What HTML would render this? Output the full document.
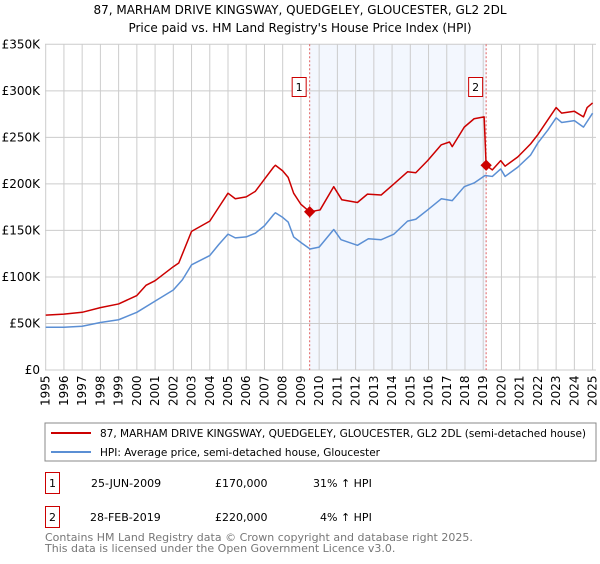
<!DOCTYPE html>
<html><head><meta charset="utf-8"><style>
body{margin:0;background:#fff;font-family:"DejaVu Sans","Liberation Sans",sans-serif;}
svg text{font-family:"DejaVu Sans","Liberation Sans",sans-serif;}
</style></head><body>
<svg id="chart" width="600" height="560">
<text x="300" y="14" text-anchor="middle" font-size="12">87, MARHAM DRIVE KINGSWAY, QUEDGELEY, GLOUCESTER, GL2 2DL</text>
<text x="300" y="32" text-anchor="middle" font-size="12">Price paid vs. HM Land Registry's House Price Index (HPI)</text>
<g id="plot"></g>
<rect x="45" y="423" width="551" height="38" fill="#fff" stroke="#888"/>
<line x1="51" y1="433" x2="91" y2="433" stroke="#cc0000" stroke-width="2"/>
<text x="100" y="437" font-size="10.5" textLength="486" lengthAdjust="spacingAndGlyphs">87, MARHAM DRIVE KINGSWAY, QUEDGELEY, GLOUCESTER, GL2 2DL (semi-detached house)</text>
<line x1="51" y1="452" x2="91" y2="452" stroke="#5b8fd4" stroke-width="2"/>
<text x="100" y="456" font-size="10.5" textLength="280" lengthAdjust="spacingAndGlyphs">HPI: Average price, semi-detached house, Gloucester</text>
<g font-size="11">
<rect x="45.5" y="472.5" width="14" height="21" fill="#fff" stroke="#cc0000"/>
<text x="52.5" y="487" text-anchor="middle">1</text>
<text x="91" y="487">25-JUN-2009</text><text x="215" y="487">£170,000</text><text x="313" y="487">31% ↑ HPI</text>
<rect x="45.5" y="506.5" width="14" height="21" fill="#fff" stroke="#cc0000"/>
<text x="52.5" y="521" text-anchor="middle">2</text>
<text x="90" y="521">28-FEB-2019</text><text x="215" y="521">£220,000</text><text x="320" y="521">4% ↑ HPI</text>
</g>
<text x="45" y="561" font-size="11" fill="#777"><tspan x="45" y="541">Contains HM Land Registry data © Crown copyright and database right 2025.</tspan><tspan x="45" y="552">This data is licensed under the Open Government Licence v3.0.</tspan></text>
</svg>
<script>
const yTicks=[0,50,100,150,200,250,300,350];
const yTickLabels=["£0","£50K","£100K","£150K","£200K","£250K","£300K","£350K"];
const years=[1995,1996,1997,1998,1999,2000,2001,2002,2003,2004,2005,2006,2007,2008,2009,2010,2011,2012,2013,2014,2015,2016,2017,2018,2019,2020,2021,2022,2023,2024,2025];
const priceT=[1995,1996,1997,1998,1999,2000,2000.5,2001,2002,2002.3,2003,2004,2004.5,2005,2005.4,2006,2006.5,2007,2007.5,2007.6,2008,2008.3,2008.6,2009,2009.48,2010.05,2010.8,2011.24,2012.1,2012.65,2013.4,2014.1,2014.85,2015.3,2015.95,2016.7,2017.15,2017.3,2017.96,2018.5,2019.05,2019.16,2019.5,2019.96,2020.2,2020.9,2021.6,2022.0,2022.55,2023.0,2023.3,2024.0,2024.5,2024.7,2025.0];
const priceV=[59,60,62,67,71,80,91,96,111,115,149,160,175,190,184,186,192,205,218,220,214,207,190,178,170,172,197,183,180,189,188,200,213,212,225,242,245,240,261,270,272,220,215,225,219,229,243,253,269,282,276,278,272,282,287];
const hpiT=[1995,1996,1997,1998,1999,2000,2001,2002,2002.5,2003,2004,2004.5,2005,2005.4,2006,2006.5,2007,2007.5,2007.6,2008,2008.3,2008.6,2009,2009.5,2010,2010.8,2011.2,2012.1,2012.7,2013.4,2014.1,2014.85,2015.3,2015.95,2016.7,2017.3,2017.96,2018.5,2019.1,2019.5,2019.96,2020.2,2020.9,2021.6,2022.0,2022.55,2023.0,2023.3,2024.0,2024.5,2025.0];
const hpiV=[46,46,47,51,54,62,74,86,97,113,123,135,146,142,143,147,155,167,169,164,159,143,137,130,132,151,140,134,141,140,146,160,162,172,184,182,197,201,209,208,216,208,218,231,244,258,271,266,268,261,276];
const saleT=[2009.48,2019.16];
const saleV=[170,220];
const NS="http://www.w3.org/2000/svg";
const X0=45.7,XW=18.23,Y0=370,YS=325.7/350;
const xs=t=>X0+(t-1995)*XW, ys=v=>Y0-v*YS;
const g=document.getElementById('plot');
function mk(tag,at){const e=document.createElementNS(NS,tag);for(const k in at)e.setAttribute(k,at[k]);g.appendChild(e);return e;}
let sh=mk('rect',{x:xs(saleT[0]),y:ys(350),width:xs(saleT[1])-xs(saleT[0]),height:ys(0)-ys(350),fill:'#eef3fd',opacity:0.7});


yTicks.forEach((v,i)=>{
 let l=mk('line',{x1:45,x2:596,y1:ys(v),y2:ys(v),stroke:'#ccc'});
 
 
 let t=mk('text',{x:40,y:ys(v)+4,'text-anchor':'end','font-size':12});
 t.textContent=yTickLabels[i];
 
 
});
years.forEach(y=>{
 let l=mk('line',{x1:xs(y),x2:xs(y),y1:ys(350),y2:ys(0),stroke:'#ccc'});
 
 
 let t=mk('text',{x:0,y:0,'font-size':12,transform:`translate(${xs(y)+4},406) rotate(-90)`});
 t.textContent=y;
 
 
});
saleT.forEach((s,i)=>{
 let l=mk('line',{x1:xs(s),x2:xs(s),y1:ys(350),y2:ys(0),stroke:'#e06060','stroke-dasharray':'2,2'});
 
 
});
function line(T,V,c,name){
 let p=mk('polyline',{points:T.map((t,i)=>xs(t)+','+ys(V[i])).join(' '),fill:'none',stroke:c,'stroke-width':1.5,'stroke-linejoin':'round'});
 
 
}
line(hpiT,hpiV,'#5b8fd4','hpi-line');
line(priceT,priceV,'#cc0000','price-line');
saleT.forEach((s,i)=>{
 let d=mk('rect',{x:xs(s)-4,y:ys(saleV[i])-4,width:8,height:8,fill:'#cc0000',transform:`rotate(45 ${xs(s)} ${ys(saleV[i])})`});
 
 
 let b=mk('rect',{x:xs(s)-17.5,y:77.5,width:14,height:19,fill:'#fff',stroke:'#cc0000'});
 
 
 let t=mk('text',{x:xs(s)-10.5,y:91,'text-anchor':'middle','font-size':11});
 t.textContent=String(i+1);
 
 
});
</script>
</body></html>
